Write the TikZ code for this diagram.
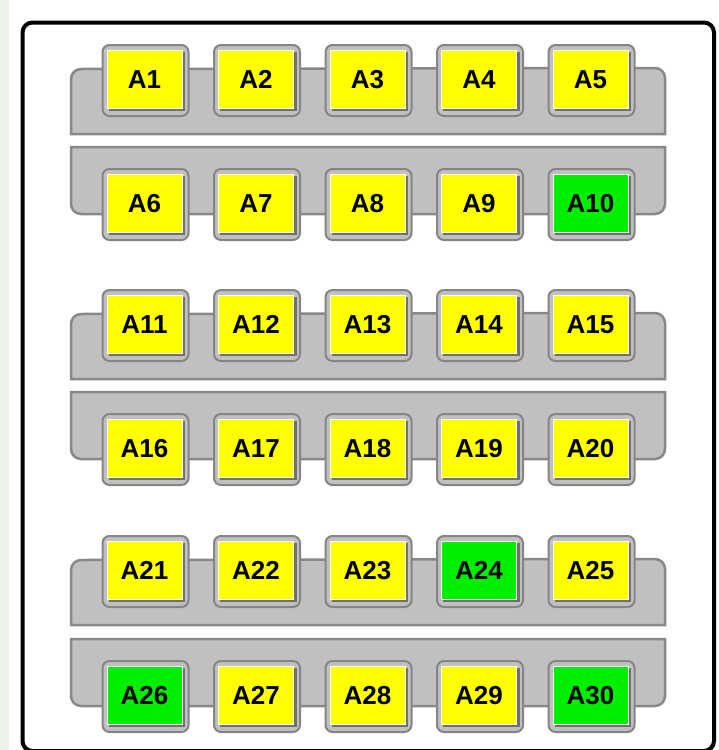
\documentclass[tikz,border=0pt]{standalone}
\usepackage{fontspec}
\setmainfont{Liberation Sans}
\usetikzlibrary{positioning}
\definecolor{PageTint}{HTML}{EAF3E5}
\definecolor{BarFill}{HTML}{C0C0C0}
\definecolor{BarEdge}{HTML}{888888}
\definecolor{SeatEdge}{HTML}{858585}
\definecolor{SeatShade}{HTML}{707070}
\definecolor{Taken}{HTML}{FFFF00}
\definecolor{Free}{HTML}{00EE00}
\tikzset{
  panel/.style={draw=black,fill=white,line width=4pt,rounded corners=10pt},
  bar/.style={draw=BarEdge,fill=BarFill,line width=2.5pt},
  seatframe/.style={draw=SeatEdge,fill=BarFill,line width=2pt,rounded corners=7pt},
  seat/.style={draw=white,line width=0.8pt,fill=Taken,minimum width=75pt,minimum height=58pt,inner sep=0pt,text height=18.6pt,text depth=0pt,font=\fontsize{26}{26}\selectfont\bfseries,text=black},
  freeseat/.style={seat,fill=Free}
}
\begin{document}
\begin{tikzpicture}[x=1pt,y=-1pt]
  \useasboundingbox (0,0) rectangle (719,750);
  \fill[white] (0,0) rectangle (719,750);
  \fill[PageTint] (0,0) rectangle (9,750);
  \draw[panel] (22.5,22.5) rectangle (714,751);
  % two bars for every pair of rows
  \foreach \yt/\yb in {79/203,324/448,570/695} {
    \draw[bar] (71,\yt+55) -- (71,\yt+0) arc (180:270:10) -- (655,\yt-11) arc (270:360:10) -- (665,\yt+55) -- cycle;
    \draw[bar] (71,\yb-56) -- (665,\yb-56) -- (665,\yb+1) arc (0:90:10) -- (81,\yb+11) arc (90:180:10) -- cycle;
  }
  % seats
  \foreach \yy [count=\r from 0] in {79,203,324,448,570,695} {
    \foreach \c in {0,...,4} {
      \pgfmathtruncatemacro\n{5*\r+\c+1}
      \pgfmathsetmacro\xx{144.5+111.5*\c}
      \pgfmathtruncatemacro\isfree{(\n==10)||(\n==24)||(\n==26)||(\n==30)}
      \draw[seatframe] (\xx-42,\yy-34) rectangle (\xx+44,\yy+37);
      \fill[SeatShade] (\xx-36,\yy+29) rectangle (\xx+40.5,\yy+32);
      \fill[SeatShade] (\xx+37.5,\yy-27) rectangle (\xx+40.5,\yy+32);
      \ifnum\isfree=1
        \node[freeseat] (a\n) at (\xx,\yy) {A\n};
      \else
        \node[seat] (a\n) at (\xx,\yy) {A\n};
      \fi
    }
  }
\end{tikzpicture}
\end{document}
